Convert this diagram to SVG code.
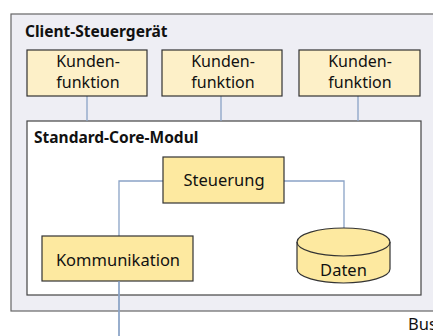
<svg xmlns="http://www.w3.org/2000/svg" width="433" height="336" viewBox="0 0 433 336">
  <style>
    text { font-family: "Noto Sans", "Open Sans", "Liberation Sans", sans-serif; fill: #111; }
    .title { font-size: 15.5px; font-weight: bold; }
    .label { font-size: 16.5px; text-anchor: middle; }
    .two { font-size: 16px; text-anchor: middle; }
    .client { fill: #eeeef4; stroke: #666; stroke-width: 1.2; }
    .core { fill: #ffffff; stroke: #444; stroke-width: 1.2; }
    .func { fill: #fdf0c8; stroke: #333; stroke-width: 1.2; }
    .unit { fill: #fde9a0; stroke: #333; stroke-width: 1.2; }
    .link { fill: none; stroke: #8aa3c6; stroke-width: 1.3; }
  </style>

  <!-- outer controller frame -->
  <g id="client">
    <rect class="client" x="11" y="14" width="430" height="297"/>
    <text class="title" x="25" y="37">Client-Steuergerät</text>
  </g>

  <!-- core module -->
  <g id="core">
    <rect class="core" x="27" y="121" width="394" height="174"/>
    <text class="title" x="34" y="143">Standard-Core-Modul</text>
  </g>

  <!-- connectors -->
  <g id="connectors">
    <line class="link" x1="87" y1="96" x2="87" y2="121"/>
    <line class="link" x1="221" y1="96" x2="221" y2="121"/>
    <line class="link" x1="358" y1="96" x2="358" y2="121"/>
    <polyline class="link" points="163,181 119,181 119,336"/>
    <polyline class="link" points="284,181 344,181 344,229"/>
  </g>

  <g id="kunde1">
    <rect class="func" x="27" y="50" width="120" height="46"/>
    <text class="two" x="88" y="67">Kunden-</text>
    <text class="two" x="88" y="88">funktion</text>
  </g>
  <g id="kunde2">
    <rect class="func" x="162" y="50" width="120" height="46"/>
    <text class="two" x="223" y="67">Kunden-</text>
    <text class="two" x="223" y="88">funktion</text>
  </g>
  <g id="kunde3">
    <rect class="func" x="299" y="50" width="121" height="46"/>
    <text class="two" x="360" y="67">Kunden-</text>
    <text class="two" x="360" y="88">funktion</text>
  </g>

  <g id="steuerung">
    <rect class="unit" x="163" y="157" width="121" height="46"/>
    <text class="label" x="224" y="186">Steuerung</text>
  </g>

  <g id="kommunikation">
    <rect class="unit" x="42" y="236" width="151" height="45"/>
    <text class="label" x="118" y="266">Kommunikation</text>
  </g>
  <line class="link" x1="119" y1="281" x2="119" y2="336"/>

  <g id="daten">
    <path class="unit" d="M297,242 A46.5,14 0 0 1 390,242 L390,269 A46.5,14 0 0 1 297,269 Z"/>
    <path fill="none" stroke="#333" stroke-width="1.2" d="M297,242 A46.5,14 0 0 0 390,242"/>
    <text class="label" x="343.5" y="276">Daten</text>
  </g>

  <g id="bus">
    <text x="408" y="330" style="font-size:16.5px">Bus</text>
  </g>
</svg>
